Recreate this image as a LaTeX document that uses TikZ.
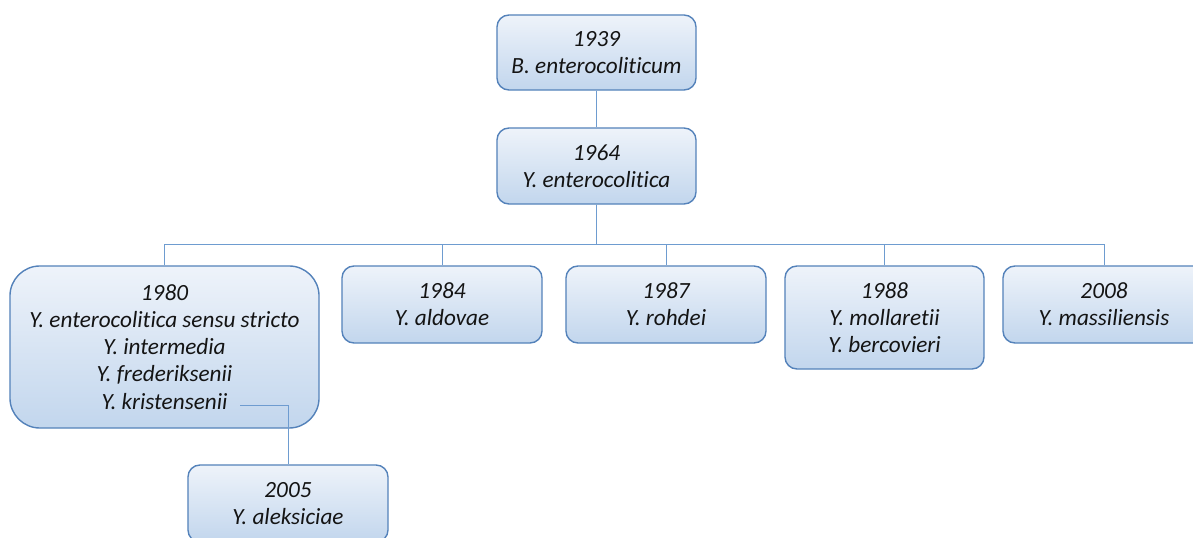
\documentclass[tikz,border=0pt]{standalone}
\usepackage{fontspec}
\setmainfont{Carlito}[Ligatures={NoCommon}]
\usepackage{tikz}

\definecolor{boxline}{RGB}{84,130,186}
\definecolor{linkline}{RGB}{110,156,208}
\definecolor{boxtop}{RGB}{238,243,250}
\definecolor{boxbottom}{RGB}{194,214,237}
\definecolor{txt}{RGB}{20,20,20}

\tikzset{
    taxon/.style={draw=boxline,line width=1pt,rounded corners=0.3cm,
        top color=boxtop,bottom color=boxbottom,text=txt,align=center,
        inner sep=0pt,minimum width=5cm,minimum height=1.925cm,
        font=\itshape\fontsize{16.5}{19.3}\selectfont},
    link/.style={draw=linkline,line width=0.7pt}
}

\begin{document}
\begin{tikzpicture}[x=0.025cm,y=-0.025cm]
    \clip (0,0) rectangle (1193,538);
    \useasboundingbox (0,0) rectangle (1193,538);
    % nodes (pixel grid)
    \node[taxon,minimum width=4.975cm,minimum height=1.875cm] (a1939) at (596.5,52.5) {1939\\B. enterocoliticum};
    \node[taxon,minimum width=4.975cm,minimum height=1.9cm] (a1964) at (596.5,166) {1964\\Y. enterocolitica};
    \node[taxon,minimum width=7.725cm,minimum height=4.05cm,rounded corners=0.75cm] (a1980) at (164.5,347)
        {1980\\Y. enterocolitica sensu stricto\\Y. intermedia\\Y. frederiksenii\\Y. kristensenii};
    \node[taxon] (a1984) at (442,304.5) {1984\\Y. aldovae};
    \node[taxon] (a1987) at (666,304.5) {1987\\Y. rohdei};
    \node[taxon,minimum width=4.975cm,minimum height=2.575cm] (a1988) at (884.5,317.5) {1988\\Y. mollaretii\\Y. bercovieri};
    \node[taxon,minimum width=5.05cm] (a2008) at (1104,304.5) {2008\\Y. massiliensis};
    \node[taxon] (a2005) at (288,503.5) {2005\\Y. aleksiciae};
    \coordinate (kris) at (240,405);
    % links
    \draw[link] (a1939) -- (a1964);
    \foreach \n in {a1980,a1984,a1987,a1988,a2008}
        \draw[link] (a1964.south) -- ++(0,40) -| (\n.north);
    \draw[link] (kris) -| (a2005.north);
\end{tikzpicture}
\end{document}
